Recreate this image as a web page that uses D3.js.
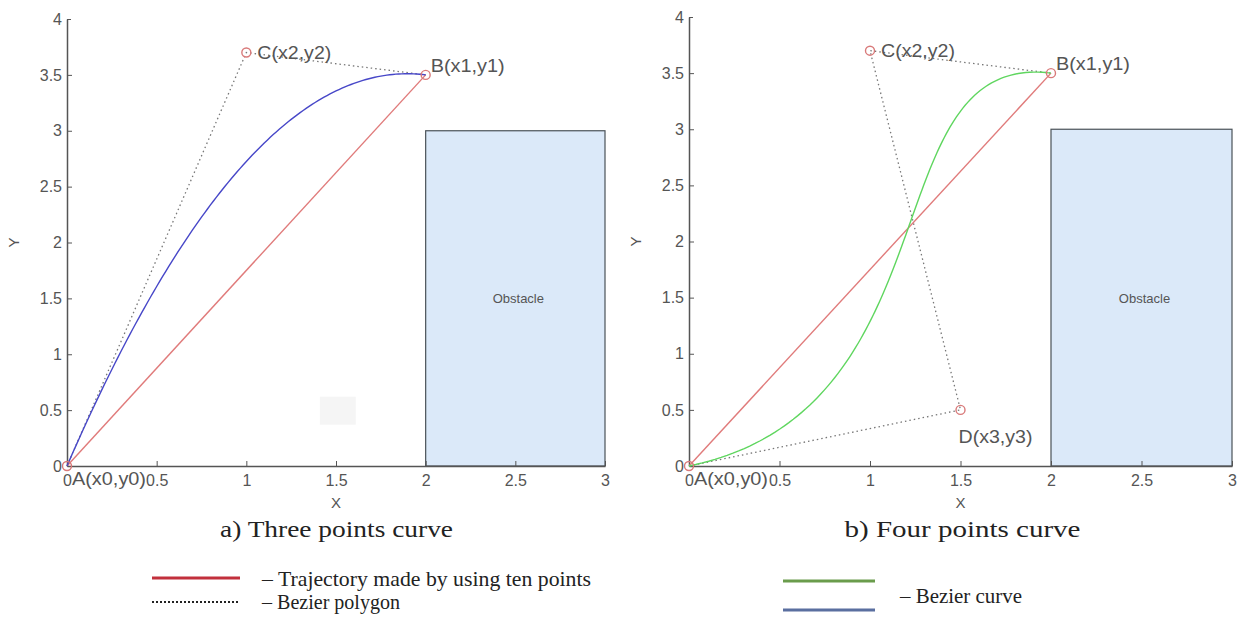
<!DOCTYPE html>
<html>
<head>
<meta charset="utf-8">
<script src="https://cdn.jsdelivr.net/npm/d3@7"></script>
<style>
  body { margin: 0; background: #fff; }
  svg { display: block; }
</style>
</head>
<body>
<svg id="chart" width="1247" height="627"></svg>
<script>
// Control points of the Bezier paths
const pointA = [0, 0];
const pointB = [2, 3.5];
const pointC = [1, 3.7];
const pointD = [1.5, 0.5];

// Obstacle rectangle: [x0, x1] x [y0, y1]
const obstacleX = [2, 3];
const obstacleY = [0, 3];

// Axis ticks
const xTicks = [0, 0.5, 1, 1.5, 2, 2.5, 3];
const yTicks = [0, 0.5, 1, 1.5, 2, 2.5, 3, 3.5, 4];

// Panel captions
const panelTitles = ["a) Three points curve", "b) Four points curve"];

// Point labels
const labelA = "A(x0,y0)";
const labelB = "B(x1,y1)";
const labelC = "C(x2,y2)";
const labelD = "D(x3,y3)";

// Legend entries
const legendLeft = ["– Trajectory made by using ten points", "– Bezier polygon"];
const legendRight = "– Bezier curve";

const svg = d3.select("#chart");
const plotFont = "Liberation Sans, Arial, sans-serif";
const serifFont = "Liberation Serif, Times New Roman, serif";
const textGray = "#555";

function bezierPoints(ctrl, n) {
  // De Casteljau evaluation for any number of control points
  const pts = [];
  for (let i = 0; i <= n; i++) {
    const t = i / n;
    let p = ctrl.map(c => c.slice());
    while (p.length > 1) {
      const q = [];
      for (let k = 0; k < p.length - 1; k++) {
        q.push([p[k][0] * (1 - t) + p[k + 1][0] * t, p[k][1] * (1 - t) + p[k + 1][1] * t]);
      }
      p = q;
    }
    pts.push(p[0]);
  }
  return pts;
}

function drawPanel(cfg) {
  const x = d3.scaleLinear().domain([0, 3]).range([cfg.left, cfg.right]);
  const y = d3.scaleLinear().domain([0, 4]).range([466, cfg.top]);
  const g = svg.append("g");
  const line = d3.line().x(d => x(d[0])).y(d => y(d[1]));

  // Obstacle
  g.append("rect")
    .attr("x", x(obstacleX[0])).attr("y", y(obstacleY[1]))
    .attr("width", x(obstacleX[1]) - x(obstacleX[0]))
    .attr("height", y(obstacleY[0]) - y(obstacleY[1]))
    .attr("fill", "#dbe9f9").attr("stroke", "#4a5258").attr("stroke-width", 1.2);
  g.append("text")
    .attr("x", x((obstacleX[0] + obstacleX[1]) / 2) + 3)
    .attr("y", y((obstacleY[0] + obstacleY[1]) / 2) + 5)
    .attr("text-anchor", "middle")
    .attr("font-family", plotFont).attr("font-size", 13).attr("fill", "#555")
    .text("Obstacle");

  // Axes (left and bottom only, ticks pointing inward)
  const xAxis = d3.axisBottom(x).tickValues(xTicks).tickSizeInner(-5).tickSizeOuter(0)
    .tickFormat(d3.format("~g")).tickPadding(9);
  const yAxis = d3.axisLeft(y).tickValues(yTicks).tickSizeInner(-5).tickSizeOuter(0)
    .tickFormat(d3.format("~g")).tickPadding(5);

  const gx = g.append("g").attr("transform", `translate(0,${y(0)})`).call(xAxis);
  const gy = g.append("g").attr("transform", `translate(${x(0)},0)`).call(yAxis);
  [gx, gy].forEach(a => {
    a.attr("font-size", 16).attr("font-family", plotFont);
    a.select(".domain").attr("stroke", "#555").attr("stroke-width", 1.5);
    a.selectAll(".tick line").attr("stroke", "#555");
    a.selectAll(".tick text").attr("fill", textGray);
  });
  gy.selectAll(".tick").filter(d => d === 4).select("line").attr("x2", 4);

  // Axis labels
  g.append("text")
    .attr("x", x(1.5)).attr("y", 508)
    .attr("text-anchor", "middle")
    .attr("font-family", plotFont).attr("font-size", 15).attr("fill", textGray)
    .text("X");
  g.append("text")
    .attr("transform", `translate(${x(0) - 48},${y(2)}) rotate(-90)`)
    .attr("text-anchor", "middle")
    .attr("font-family", plotFont).attr("font-size", 15).attr("fill", textGray)
    .text("Y");

  // Bezier polygon (dotted)
  g.append("path")
    .attr("d", line(cfg.polygon))
    .attr("fill", "none").attr("stroke", "#777").attr("stroke-width", 1.3)
    .attr("stroke-dasharray", "1.5,3");

  // Straight trajectory
  g.append("path")
    .attr("d", line([pointA, pointB]))
    .attr("fill", "none").attr("stroke", "#e07b7b").attr("stroke-width", 1.4);

  // Bezier curve
  g.append("path")
    .attr("d", line(bezierPoints(cfg.controls, 120)))
    .attr("fill", "none").attr("stroke", cfg.curveColor).attr("stroke-width", 1.4);

  // Control point markers
  g.selectAll("circle.pt").data(cfg.markers).join("circle")
    .attr("class", "pt")
    .attr("cx", d => x(d[0])).attr("cy", d => y(d[1])).attr("r", 4.5)
    .attr("fill", "none").attr("stroke", "#d97a7a").attr("stroke-width", 1.4);

  // Point labels
  cfg.labels.forEach(l => {
    g.append("text")
      .attr("x", x(l.p[0]) + l.dx).attr("y", y(l.p[1]) + l.dy)
      .attr("font-family", plotFont).attr("font-size", 19).attr("fill", "#555")
      .attr("textLength", 74).attr("lengthAdjust", "spacingAndGlyphs")
      .text(l.text);
  });

  // Caption
  g.append("text")
    .attr("x", x(1.5) - 116).attr("y", 537)
    .attr("font-family", serifFont).attr("font-size", 23).attr("fill", "#222")
    .attr("textLength", cfg.titleWidth).attr("lengthAdjust", "spacingAndGlyphs")
    .text(cfg.title);

  return { x, y, g };
}

const panelA = drawPanel({
  left: 67, right: 605, top: 19,
  polygon: [pointA, pointC, pointB],
  controls: [pointA, pointC, pointB],
  curveColor: "#4747c8",
  markers: [pointA, pointC, pointB],
  labels: [
    { p: pointA, text: labelA, dx: 5, dy: 19 },
    { p: pointC, text: labelC, dx: 11, dy: 6 },
    { p: pointB, text: labelB, dx: 5, dy: -3 }
  ],
  title: panelTitles[0],
  titleWidth: 233
});

// Faint grey patch inside panel a
panelA.g.insert("rect", ":first-child")
  .attr("x", panelA.x(1.41)).attr("y", panelA.y(0.62))
  .attr("width", panelA.x(1.61) - panelA.x(1.41))
  .attr("height", panelA.y(0.37) - panelA.y(0.62))
  .attr("fill", "#f5f5f5");

drawPanel({
  left: 689, right: 1232, top: 17,
  polygon: [pointA, pointD, pointC, pointB],
  controls: [pointA, pointD, pointC, pointB],
  curveColor: "#5fd65f",
  markers: [pointA, pointC, pointB, pointD],
  labels: [
    { p: pointA, text: labelA, dx: 5, dy: 19 },
    { p: pointC, text: labelC, dx: 11, dy: 6 },
    { p: pointB, text: labelB, dx: 5, dy: -3 },
    { p: pointD, text: labelD, dx: -2, dy: 33 }
  ],
  title: panelTitles[1],
  titleWidth: 236
});

// Legend
const leg = svg.append("g").attr("font-family", serifFont).attr("font-size", 22).attr("fill", "#222");
leg.append("line").attr("x1", 152).attr("x2", 240).attr("y1", 578).attr("y2", 578)
  .attr("stroke", "#c2303c").attr("stroke-width", 3);
leg.append("text").attr("x", 262).attr("y", 586)
  .attr("textLength", 329).attr("lengthAdjust", "spacingAndGlyphs").text(legendLeft[0]);
leg.append("line").attr("x1", 152).attr("x2", 240).attr("y1", 602).attr("y2", 602)
  .attr("stroke", "#222").attr("stroke-width", 2).attr("stroke-dasharray", "2,2");
leg.append("text").attr("x", 262).attr("y", 609)
  .attr("textLength", 138).attr("lengthAdjust", "spacingAndGlyphs").text(legendLeft[1]);
leg.append("line").attr("x1", 783).attr("x2", 875).attr("y1", 581).attr("y2", 581)
  .attr("stroke", "#6a9c4c").attr("stroke-width", 3);
leg.append("line").attr("x1", 783).attr("x2", 875).attr("y1", 610).attr("y2", 610)
  .attr("stroke", "#5a6fa0").attr("stroke-width", 3);
leg.append("text").attr("x", 900).attr("y", 603)
  .attr("textLength", 122).attr("lengthAdjust", "spacingAndGlyphs").text(legendRight);
</script>
</body>
</html>
